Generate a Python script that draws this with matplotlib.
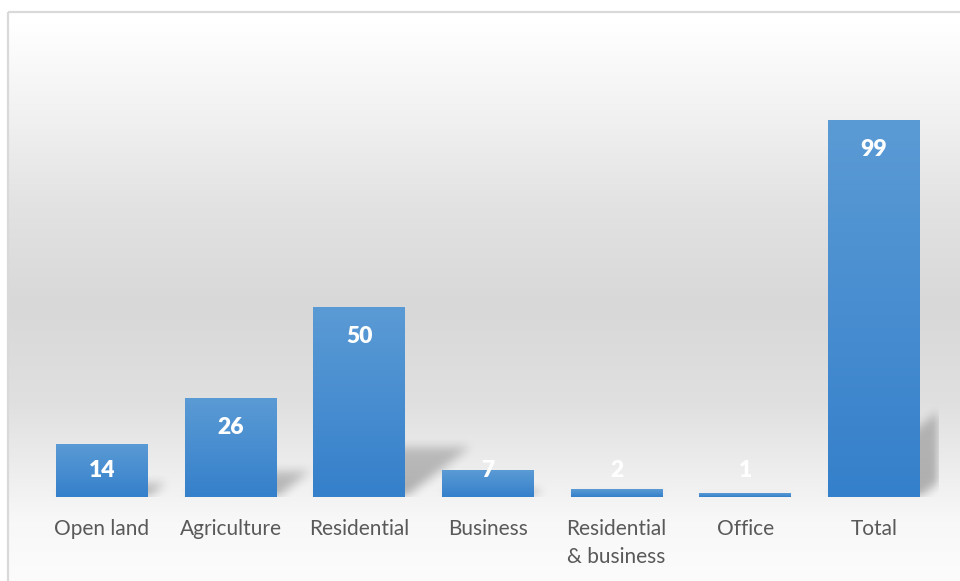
import numpy as np
import matplotlib.pyplot as plt
from matplotlib.patches import Rectangle

# Data
categories = ['Open land', 'Agriculture', 'Residential', 'Business',
              'Residential\n& business', 'Office', 'Total']
values = [14, 26, 50, 7, 2, 1, 99]

plt.rcParams['font.family'] = ['Lato', 'DejaVu Sans']

fig = plt.figure(figsize=(9.6, 5.81), dpi=100)

# Background with the vertical grey gradient and the thin border
bg = fig.add_axes([0, 0, 1, 1], zorder=0)
bg.set_xlim(0, 960)
bg.set_ylim(581, 0)
bg.axis('off')
rows = np.arange(581)
stops_y = [12, 100, 200, 300, 400, 470, 520, 581]
stops_c = [255, 242, 226, 216, 224, 238, 248, 252]
shade = np.interp(rows, stops_y, stops_c) / 255.0
grad = np.repeat(shade[:, None], 2, axis=1)
bg.imshow(np.dstack([grad, grad, grad]), extent=[8, 960, 581, 12],
          aspect='auto', interpolation='bilinear')
bg.add_patch(Rectangle((8, 12), 1000, 600, fill=False,
                       edgecolor='#d9d9d9', linewidth=1.6))

# Main chart
ax = fig.add_axes([0.0393, 0.1446, 0.938, 0.7866], zorder=1)
ax.patch.set_alpha(0)
x = np.arange(len(values))
width = 0.715
ymax = 120

bars = ax.bar(x, values, width=width, color='#4a8fd2', zorder=3)

# Gradient fill inside each bar (lighter at the top)
top_c = np.array([91, 155, 213]) / 255.0
bot_c = np.array([53, 128, 203]) / 255.0
for b, v in zip(bars, values):
    xl = b.get_x()
    frac = np.linspace(0, 1, 100)[:, None] * np.ones((100, 2))
    img = top_c * (1 - frac[..., None]) + bot_c * frac[..., None]
    im = ax.imshow(img, extent=[xl, xl + width, 0, v], aspect='auto',
                   zorder=3.5, interpolation='bilinear')
    im.set_clip_path(b)

# Soft perspective shadows behind the bars
nx, ny = 900, 457
gx = np.linspace(-0.5, 6.5, nx)
gy = np.linspace(0, ymax, ny)
GX, GY = np.meshgrid(gx, gy)
mask = np.zeros((ny, nx))
px_x = 900 / 7.0
px_y = 457 / ymax
for xi, v in zip(x, values):
    hs = 0.26 * v
    dx = 1.3 * hs * px_y / px_x
    t = np.clip(GY / max(hs, 1e-6), 0, 1)
    inside = (GY <= hs) & (GX >= xi - width / 2 + t * dx) & (GX <= xi + width / 2 + t * dx)
    mask = np.maximum(mask, inside * (1 - 0.3 * t))


def box_blur(a, k, axis):
    kern = np.ones(k) / k
    return np.apply_along_axis(lambda r: np.convolve(r, kern, mode='same'), axis, a)


for _ in range(2):
    mask = box_blur(mask, 11, 0)
    mask = box_blur(mask, 11, 1)
shadow = np.zeros((ny, nx, 4))
shadow[..., 3] = 0.28 * mask
ax.imshow(shadow, extent=[-0.5, 6.5, 0, ymax], origin='lower', aspect='auto',
          zorder=2, interpolation='bilinear')

# Data labels
for xi, v in zip(x, values):
    ly = max(v - 7.8, 7.0)
    ax.text(xi, ly, str(v), ha='center', va='center', color='white',
            fontsize=16.5, fontweight='heavy', zorder=5)

ax.set_xlim(-0.5, 6.5)
ax.set_ylim(0, ymax)
ax.set_xticks(x)
ax.set_xticklabels(categories, fontsize=15, color='#595959', linespacing=1.5)
ax.tick_params(axis='x', length=0, pad=16)
ax.set_yticks([])
for s in ax.spines.values():
    s.set_visible(False)

fig.savefig('out.png', dpi=100)
